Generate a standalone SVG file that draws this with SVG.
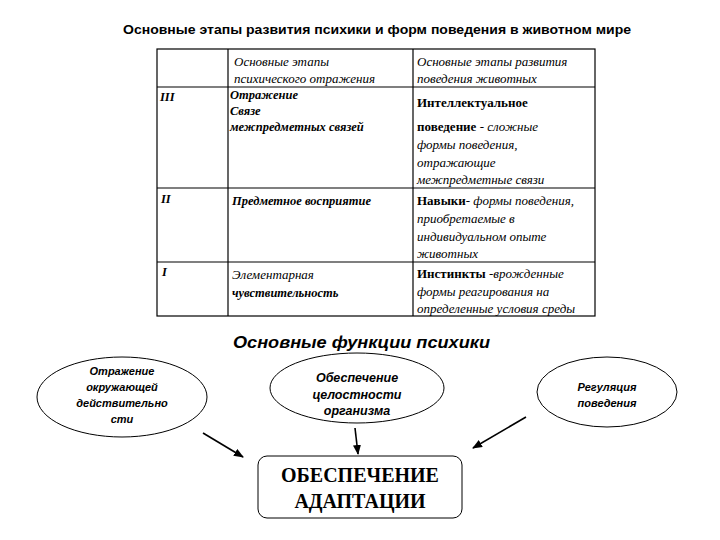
<svg xmlns="http://www.w3.org/2000/svg" width="720" height="540" viewBox="0 0 720 540">
<style>
.title{font-family:"Liberation Sans",Arial,sans-serif;font-weight:bold;font-size:13px;fill:#000}
.sub{font-family:"Liberation Sans",Arial,sans-serif;font-weight:bold;font-style:italic;font-size:17px;fill:#000}
.ti{font-family:"Liberation Serif","Times New Roman",serif;font-style:italic;font-size:13px;fill:#000}
.tbi{font-family:"Liberation Serif","Times New Roman",serif;font-style:italic;font-weight:bold;font-size:12.5px;fill:#000}
.tb{font-family:"Liberation Serif","Times New Roman",serif;font-weight:bold;font-size:13px;fill:#000}
.el{font-family:"Liberation Sans",Arial,sans-serif;font-style:italic;font-weight:bold;font-size:11px;fill:#000}
.elb{font-family:"Liberation Sans",Arial,sans-serif;font-style:italic;font-weight:bold;font-size:12.5px;fill:#000}
.big{font-family:"Liberation Serif","Times New Roman",serif;font-weight:bold;font-size:20px;fill:#000}
.grid{stroke:#000;stroke-width:1.2;fill:none}
.shape{stroke:#000;stroke-width:1;fill:#fff}
.conn{stroke:#000;stroke-width:1.6;fill:none;marker-end:url(#ah)}
</style>
<defs>
<marker id="ah" markerWidth="10" markerHeight="8" refX="9" refY="4" orient="auto" markerUnits="userSpaceOnUse">
<path d="M0,0 L10,4 L0,8 Z" fill="#000"/>
</marker>
</defs>
<rect width="720" height="540" fill="#fff"/>
<text class="title" x="377" y="34" text-anchor="middle" textLength="508" lengthAdjust="spacingAndGlyphs">Основные этапы развития психики и форм поведения в животном мире</text>

<g id="table">
<rect class="grid" x="157" y="49" width="438" height="267"/>
<line class="grid" x1="228" y1="49" x2="228" y2="316"/>
<line class="grid" x1="413" y1="49" x2="413" y2="316"/>
<line class="grid" x1="157" y1="87" x2="595" y2="87"/>
<line class="grid" x1="157" y1="188" x2="595" y2="188"/>
<line class="grid" x1="157" y1="262" x2="595" y2="262"/>

<text class="ti" x="234" y="66">Основные этапы</text>
<text class="ti" x="234" y="83">психического отражения</text>
<text class="ti" x="417" y="66">Основные этапы развития</text>
<text class="ti" x="417" y="83">поведения животных</text>

<text class="tbi" x="160" y="101">III</text>
<text class="tbi" x="230" y="99">Отражение</text>
<text class="tbi" x="230" y="115">Связе</text>
<text class="tbi" x="230" y="131">межпредметных связей</text>
<text class="tb" x="417" y="107">Интеллектуальное</text>
<text x="417" y="131"><tspan class="tb">поведение</tspan><tspan class="ti"> - сложные</tspan></text>
<text class="ti" x="417" y="149">формы поведения,</text>
<text class="ti" x="417" y="167">отражающие</text>
<text class="ti" x="417" y="184">межпредметные связи</text>

<text class="tbi" x="161" y="203">II</text>
<text class="tbi" x="232" y="205">Предметное восприятие</text>
<text x="417" y="205"><tspan class="tb">Навыки</tspan><tspan class="ti">- формы поведения,</tspan></text>
<text class="ti" x="417" y="223">приобретаемые в</text>
<text class="ti" x="417" y="241">индивидуальном опыте</text>
<text class="ti" x="417" y="258">животных</text>

<text class="tbi" x="162" y="276">I</text>
<text class="ti" x="232" y="279">Элементарная</text>
<text class="tbi" x="232" y="297">чувствительность</text>
<text x="417" y="278"><tspan class="tb">Инстинкты</tspan><tspan class="ti"> -врожденные</tspan></text>
<text class="ti" x="417" y="296">формы реагирования на</text>
<text class="ti" x="417" y="313">определенные условия среды</text>
</g>

<text class="sub" x="233" y="348" textLength="257" lengthAdjust="spacingAndGlyphs">Основные функции психики</text>

<g id="connectors">
<line class="conn" x1="203" y1="433" x2="243" y2="457"/>
<line class="conn" x1="355" y1="428" x2="358" y2="454"/>
<line class="conn" x1="526" y1="417" x2="473" y2="448"/>
</g>

<g id="node-reflect">
<ellipse class="shape" cx="122" cy="397" rx="85" ry="40"/>
<text class="el" x="122" y="375" text-anchor="middle">Отражение</text>
<text class="el" x="122" y="391" text-anchor="middle">окружающей</text>
<text class="el" x="122" y="407" text-anchor="middle">действительно</text>
<text class="el" x="122" y="423" text-anchor="middle">сти</text>
</g>

<g id="node-integrity">
<ellipse class="shape" cx="357" cy="388" rx="87" ry="35"/>
<text class="elb" x="357" y="382" text-anchor="middle">Обеспечение</text>
<text class="elb" x="357" y="399" text-anchor="middle">целостности</text>
<text class="elb" x="357" y="415" text-anchor="middle">организма</text>
</g>

<g id="node-regulation">
<ellipse class="shape" cx="607" cy="392" rx="70" ry="35"/>
<text class="el" x="607" y="391" text-anchor="middle">Регуляция</text>
<text class="el" x="607" y="407" text-anchor="middle">поведения</text>
</g>

<g id="node-adaptation">
<rect class="shape" x="258" y="456" width="204" height="62" rx="9"/>
<text class="big" x="360" y="482" text-anchor="middle">ОБЕСПЕЧЕНИЕ</text>
<text class="big" x="360" y="508" text-anchor="middle">АДАПТАЦИИ</text>
</g>
</svg>
